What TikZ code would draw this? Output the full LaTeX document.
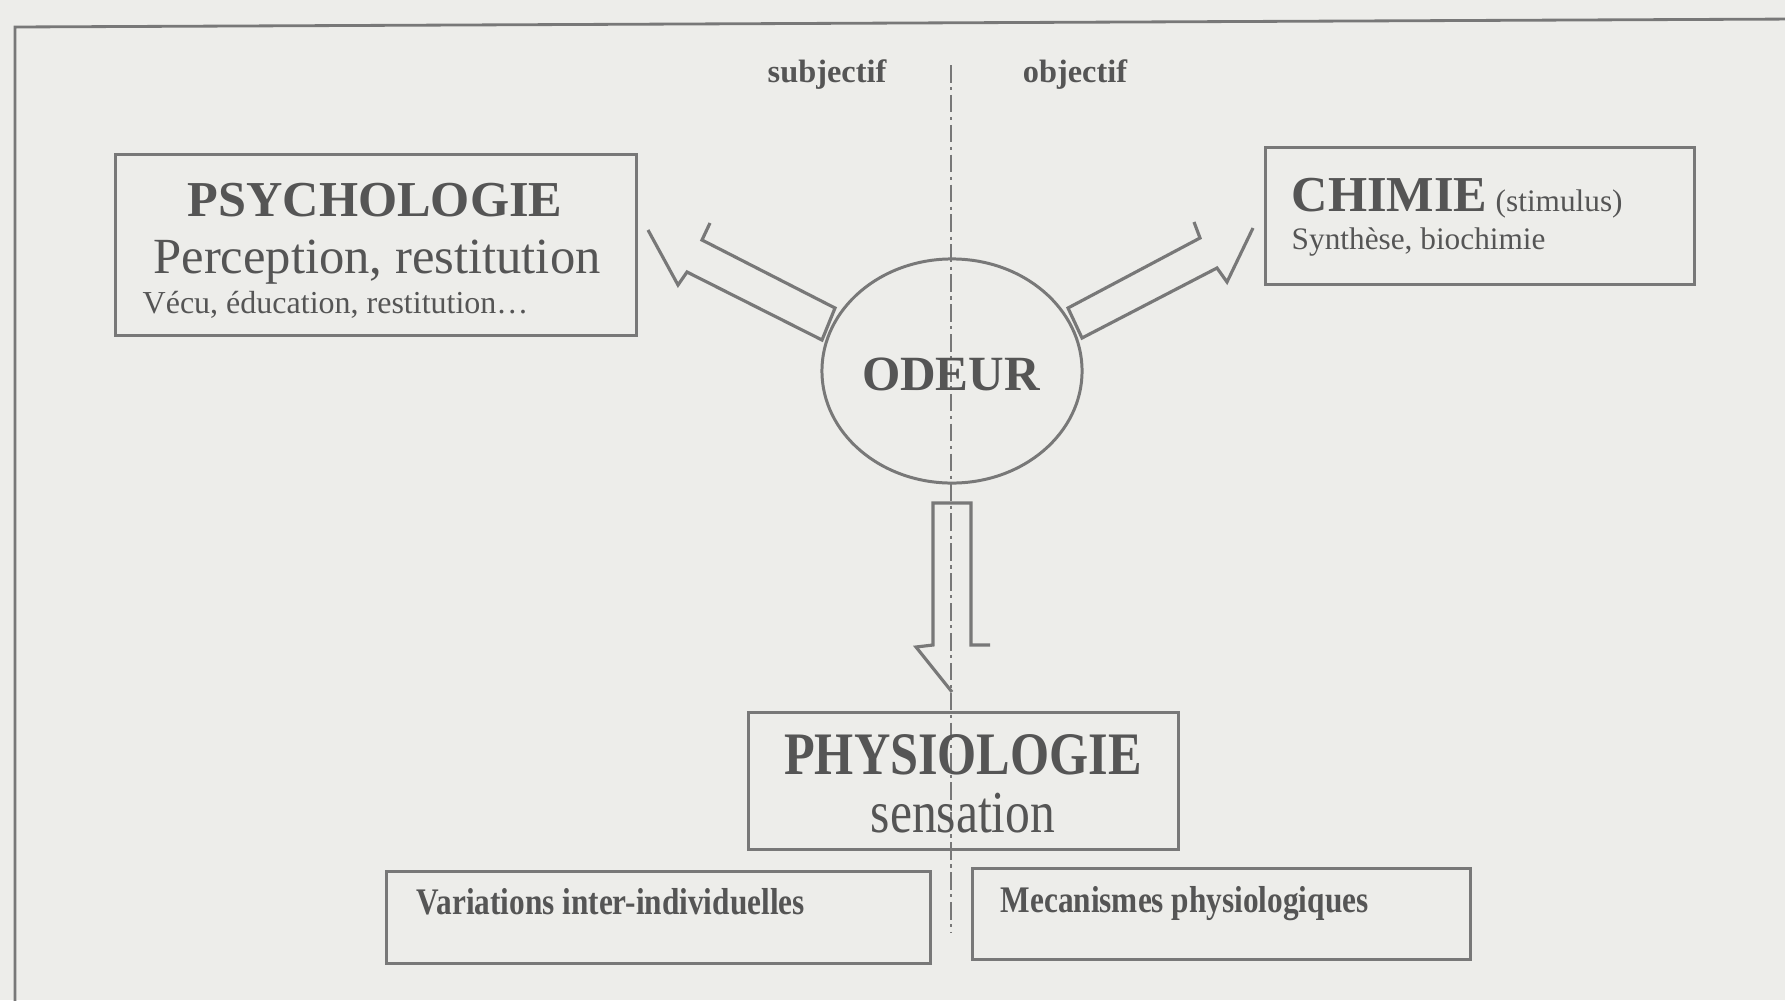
\documentclass[tikz,border=0pt]{standalone}
\usepackage{fontspec}
\setmainfont{Liberation Serif}
\usetikzlibrary{shapes.geometric}
\definecolor{paper}{RGB}{237,237,234}
\definecolor{ink}{RGB}{85,85,85}
\definecolor{linec}{RGB}{120,120,120}
\tikzset{
  boxnode/.style={draw=linec, line width=0.85pt, rectangle, inner sep=0pt},
  txt/.style={text=ink, inner sep=0pt, anchor=base},
  txtl/.style={text=ink, inner sep=0pt, anchor=base west},
  blockarrow/.style={draw=linec, line width=0.9pt, line join=miter},
  centreline/.style={draw=linec, line width=0.7pt, dash pattern=on 5pt off 1.3pt on 0.9pt off 1.3pt},
}
\begin{document}
\begin{tikzpicture}[x=0.01cm, y=-0.01cm]
\clip (0,0) rectangle (1785,1000);
\fill[paper] (0,0) rectangle (1785,1000);
% outer frame
\draw[linec, line width=0.8pt] (1800,19) -- (15,27) -- (15,1010);

% centre line
\coordinate (ctop) at (951,65);
\coordinate (cbot) at (951,933);
\draw[centreline] (ctop) -- (cbot);

% labels
\node[txt, font=\fontsize{9.2pt}{11pt}\selectfont\bfseries] (subj) at (827,82) {subjectif};
\node[txt, font=\fontsize{9.2pt}{11pt}\selectfont\bfseries] (obj) at (1075,82) {objectif};

% psychologie
\node[boxnode, minimum width=5.20cm, minimum height=1.80cm] (psy) at (376,245) {};
\node[txt, font=\fontsize{14.3pt}{16pt}\selectfont\bfseries] (psyt) at (375,216) {PSYCHOLOGIE};
\node[txt, font=\fontsize{14.4pt}{16pt}\selectfont] (psy2) at (377,273) {Perception, restitution};
\node[txtl, font=\fontsize{9.1pt}{11pt}\selectfont] (psy3) at (142,313) {Vécu, éducation, restitution…};

% chimie
\node[boxnode, minimum width=4.28cm, minimum height=1.36cm] (chi) at (1480,216) {};
\node[txtl, font=\fontsize{14.3pt}{16pt}\selectfont\bfseries] (chit) at (1291,211) {CHIMIE};
\node[txtl, font=\fontsize{8.9pt}{11pt}\selectfont] (chis) at (1495,211) {(stimulus)};
\node[txtl, font=\fontsize{8.9pt}{11pt}\selectfont] (chi2) at (1291,249) {Synthèse, biochimie};

% odeur
\node[draw=linec, line width=0.85pt, ellipse, minimum width=2.60cm, minimum height=2.24cm, inner sep=0pt] (od) at (952,371) {};
\node[txt, font=\fontsize{14pt}{16pt}\selectfont\bfseries] (odt) at (951,390) {ODEUR};

% physiologie
\node[boxnode, minimum width=4.29cm, minimum height=1.36cm] (phy) at (963.5,781) {};
\node[txt, font=\fontsize{14.3pt}{16pt}\selectfont\bfseries, yscale=1.2] (phyt) at (963,774) {PHYSIOLOGIE};
\node[txt, font=\fontsize{14.1pt}{16pt}\selectfont, yscale=1.2] (phy2) at (963,832) {sensation};

% bottom boxes
\node[boxnode, minimum width=5.43cm, minimum height=0.91cm] (var) at (658.5,917.5) {};
\node[txtl, font=\fontsize{8.9pt}{11pt}\selectfont\bfseries, yscale=1.2] (vart) at (416,914) {Variations inter-individuelles};
\node[boxnode, minimum width=4.97cm, minimum height=0.90cm] (mec) at (1221.5,914) {};
\node[txtl, font=\fontsize{8.9pt}{11pt}\selectfont\bfseries, yscale=1.2] (mect) at (1000,912) {Mecanismes physiologiques};

% block arrows
\draw[blockarrow] (710,223) -- (702,240) -- (835,308) -- (822,340) -- (687,272) -- (678,285) -- (648,230);
\draw[blockarrow] (1194,222) -- (1200,238) -- (1068,308) -- (1082,338) -- (1217,268) -- (1227,282) -- (1253,228);
\draw[blockarrow] (990,645) -- (971,645) -- (971,503) -- (933,503) -- (933,645) -- (916,647) -- (952,692);
\end{tikzpicture}
\end{document}
